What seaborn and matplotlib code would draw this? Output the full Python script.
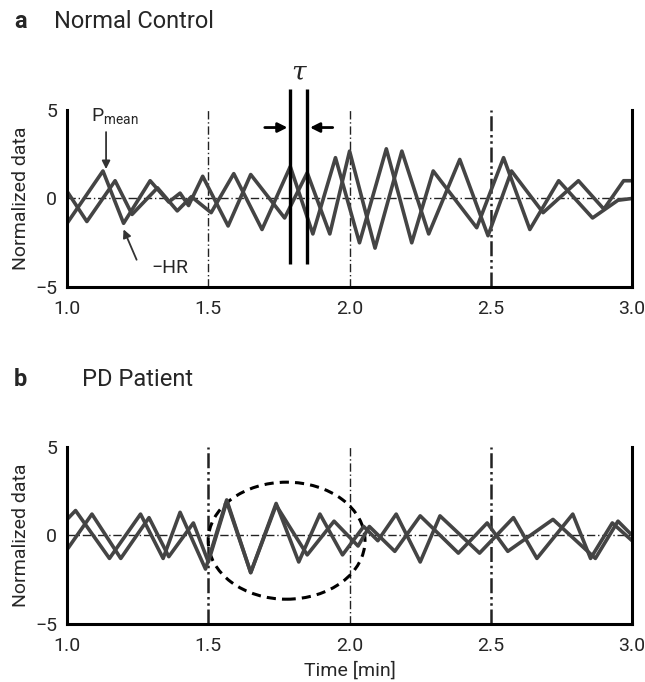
import matplotlib
matplotlib.use("Agg")
import matplotlib.pyplot as plt
from matplotlib import font_manager
from matplotlib.patches import Ellipse
import seaborn as sns
import pandas as pd

# top panel: normal control (extrema)
nc_pmean_t = [1.00, 1.127, 1.20, 1.294, 1.36, 1.40, 1.43, 1.48, 1.57, 1.65, 1.77, 1.85, 1.93,
              2.00, 2.09, 2.185, 2.28, 2.39, 2.49, 2.573, 2.685, 2.81, 2.90, 2.97, 3.00]
nc_pmean_v = [-1.4, 1.55, -1.4, 1.0, -0.2, 0.3, -0.4, 1.25, -1.55, 1.35, -1.1, 1.45, -2.0,
              2.67, -2.8, 2.67, -2.0, 2.2, -2.1, 1.55, -0.8, 1.0, -0.6, 1.0, 1.0]
nc_hr_t = [1.00, 1.07, 1.17, 1.23, 1.32, 1.39, 1.44, 1.51, 1.59, 1.69, 1.79, 1.87, 1.95,
           2.035, 2.13, 2.22, 2.296, 2.45, 2.545, 2.638, 2.74, 2.86, 2.95, 3.00]
nc_hr_v = [0.4, -1.3, 1.0, -0.9, 0.6, -0.7, 0.1, -0.8, 1.4, -1.75, 1.8, -2.0, 2.3,
           -2.5, 2.8, -2.5, 1.55, -1.65, 2.3, -1.75, 1.0, -1.1, -0.1, 0.0]

# bottom panel: PD patient
pd_pmean_t = [1.00, 1.03, 1.15, 1.26, 1.34, 1.40, 1.49, 1.565, 1.65, 1.74, 1.82, 1.895, 1.975,
              2.05, 2.10, 2.165, 2.25, 2.32, 2.46, 2.58, 2.663, 2.79, 2.853, 2.93, 3.00]
pd_pmean_v = [0.9, 1.4, -1.3, 1.2, -1.3, 1.3, -1.9, 2.0, -2.1, 1.8, -1.5, 1.2, -1.1,
              0.5, -0.3, 1.2, -1.5, 1.1, -1.0, 1.0, -1.3, 1.2, -1.3, 0.7, -0.3]
pd_hr_t = [1.00, 1.088, 1.19, 1.29, 1.36, 1.447, 1.50, 1.565, 1.65, 1.74, 1.85, 1.945, 2.03,
           2.07, 2.16, 2.25, 2.385, 2.487, 2.56, 2.72, 2.87, 2.95, 3.00]
pd_hr_v = [-0.8, 1.2, -1.3, 1.0, -1.2, 0.7, -1.5, 1.9, -2.1, 1.7, -1.1, 0.8, -0.6,
           0.5, -0.9, 1.1, -1.0, 0.7, -0.9, 0.9, -1.3, 0.8, 0.0]

x_ticks = [1.0, 1.5, 2.0, 2.5, 3.0]
y_ticks = [-5, 0, 5]
y_tick_labels = ["\u22125", "0", "5"]

sns.set_style("white")
installed = {f.name for f in font_manager.fontManager.ttflist}
narrow = "Liberation Sans Narrow" if "Liberation Sans Narrow" in installed else "Roboto"
plt.rcParams["font.family"] = [narrow, "DejaVu Sans"]
plt.rcParams["mathtext.fontset"] = "custom"
plt.rcParams["mathtext.rm"] = narrow

line_col = "#444444"

fig = plt.figure(figsize=(6.45, 6.82), dpi=100)
ax_a = fig.add_axes([0.104, 0.579, 0.876, 0.260])
ax_b = fig.add_axes([0.104, 0.085, 0.876, 0.260])


def draw_panel(ax, series, grid_styles):
    for t, v in series:
        df = pd.DataFrame({"t": t, "v": v})
        sns.lineplot(data=df, x="t", y="v", ax=ax, color=line_col, lw=2.6,
                     estimator=None, sort=False, solid_joinstyle="round")
    for xv, lw, ls in grid_styles:
        ax.axvline(xv, color="#222222", lw=lw, ls=ls, zorder=0)
    ax.axhline(0, color="#222222", lw=1.0, ls=(0, (6, 2, 1, 2)), zorder=0)
    ax.set_xlim(1.0, 3.0)
    ax.set_ylim(-5, 5)
    ax.set_xticks(x_ticks)
    ax.set_xticklabels([f"{x:.1f}" for x in x_ticks], fontsize=14)
    ax.set_yticks(y_ticks)
    ax.set_yticklabels(y_tick_labels, fontsize=14)
    ax.tick_params(axis="x", length=0, pad=9)
    ax.tick_params(axis="y", length=0, pad=7)
    ax.set_ylabel("Normalized data", fontsize=14, labelpad=4)
    ax.set_xlabel("")
    for s in ["left", "bottom", "right"]:
        ax.spines[s].set_linewidth(2.2)
        ax.spines[s].set_color("black")
    ax.spines["top"].set_visible(False)


dashdot = (0, (6, 2, 1, 2))
dashdotdot = (0, (6, 1.5, 1, 1.5, 1, 1.5))
draw_panel(ax_a, [(nc_pmean_t, nc_pmean_v), (nc_hr_t, nc_hr_v)],
           [(1.5, 1.0, dashdot), (2.0, 1.0, dashdot), (2.5, 1.8, dashdotdot)])
draw_panel(ax_b, [(pd_pmean_t, pd_pmean_v), (pd_hr_t, pd_hr_v)],
           [(1.5, 1.8, dashdotdot), (2.0, 1.0, dashdot), (2.5, 1.8, dashdotdot)])
ax_b.set_xlabel("Time [min]", fontsize=14, labelpad=5)

# tau marker
for xv in [1.79, 1.85]:
    ax_a.plot([xv, xv], [-3.7, 6.2], color="black", lw=2.4, clip_on=False,
              solid_capstyle="butt")
ax_a.annotate("", xy=(1.79, 4.0), xytext=(1.69, 4.0), annotation_clip=False,
              arrowprops=dict(arrowstyle="-|>", color="black", lw=2, mutation_scale=14))
ax_a.annotate("", xy=(1.85, 4.0), xytext=(1.95, 4.0), annotation_clip=False,
              arrowprops=dict(arrowstyle="-|>", color="black", lw=2, mutation_scale=14))
ax_a.text(1.82, 6.4, "\u03c4", fontsize=19, style="italic", family="DejaVu Serif",
          ha="center", va="bottom")

# series labels
ax_a.text(1.085, 4.6, r"P$_{\mathrm{mean}}$", fontsize=14, ha="left", va="center")
ax_a.annotate("", xy=(1.138, 1.5), xytext=(1.138, 3.9),
              arrowprops=dict(arrowstyle="-|>", color="#333333", lw=1.3, mutation_scale=12))
ax_a.text(1.30, -3.9, "\u2212HR", fontsize=14, ha="left", va="center")
ax_a.annotate("", xy=(1.196, -1.6), xytext=(1.25, -3.6),
              arrowprops=dict(arrowstyle="-|>", color="#333333", lw=1.3, mutation_scale=12))

# synchronised region
ax_b.add_patch(Ellipse((1.777, -0.3), 0.555, 6.6, fill=False, ec="black", lw=2.2,
                       ls=(0, (3, 2))))

fig.text(0.022, 0.968, "a", fontsize=17, fontweight="bold", va="center")
fig.text(0.083, 0.968, "Normal Control", fontsize=17, va="center")
fig.text(0.022, 0.443, "b", fontsize=17, fontweight="bold", va="center")
fig.text(0.127, 0.443, "PD Patient", fontsize=17, va="center")

fig.savefig("out.png", dpi=100)
